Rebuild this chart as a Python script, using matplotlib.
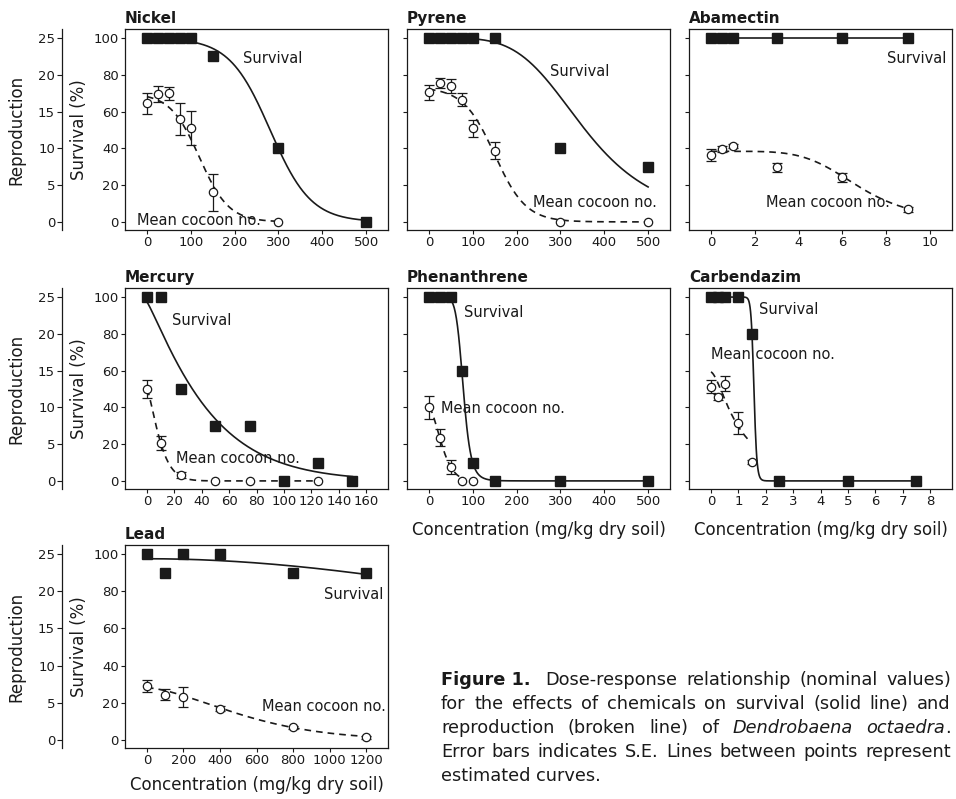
import numpy as np
import matplotlib
matplotlib.use("Agg")
import matplotlib.pyplot as plt

plt.rcParams['font.family'] = ['DejaVu Sans']

# ---- data (survival in %, reproduction as mean cocoon number) ----
nickel_surv_conc = [0, 25, 50, 75, 100, 150, 300, 500]
nickel_surv = [100, 100, 100, 100, 100, 90, 40, 0]
nickel_repro_conc = [0, 25, 50, 75, 100, 150, 300]
nickel_repro = [16.1, 17.4, 17.5, 14.0, 12.8, 4.0, 0.0]
nickel_repro_se = [1.45, 1.05, 0.9, 2.2, 2.3, 2.5, 0.0]

pyrene_surv_conc = [0, 25, 50, 75, 100, 150, 300, 500]
pyrene_surv = [100, 100, 100, 100, 100, 100, 40, 30]
pyrene_repro_conc = [0, 25, 50, 75, 100, 150, 300, 500]
pyrene_repro = [17.6, 18.95, 18.5, 16.6, 12.7, 9.7, 0.0, 0.0]
pyrene_repro_se = [1.05, 0.68, 0.93, 0.9, 1.1, 1.1, 0.0, 0.0]

abamectin_surv_conc = [0, 0.5, 1, 3, 6, 9]
abamectin_surv = [100, 100, 100, 100, 100, 100]
abamectin_repro_conc = [0, 0.5, 1, 3, 6, 9]
abamectin_repro = [9.1, 9.9, 10.35, 7.4, 6.05, 1.7]
abamectin_repro_se = [0.82, 0.4, 0.3, 0.6, 0.6, 0.3]

mercury_surv_conc = [0, 10, 25, 50, 75, 100, 125, 150]
mercury_surv = [100, 100, 50, 30, 30, 0, 10, 0]
mercury_repro_conc = [0, 10, 25, 50, 75, 125]
mercury_repro = [12.5, 5.2, 0.8, 0.0, 0.0, 0.0]
mercury_repro_se = [1.2, 0.95, 0.4, 0.0, 0.0, 0.0]

phenanthrene_surv_conc = [0, 25, 50, 75, 100, 150, 300, 500]
phenanthrene_surv = [100, 100, 100, 60, 10, 0, 0, 0]
phenanthrene_repro_conc = [0, 25, 50, 75, 100]
phenanthrene_repro = [10.0, 5.9, 1.9, 0.0, 0.0]
phenanthrene_repro_se = [1.6, 1.1, 0.9, 0.0, 0.0]

carbendazim_surv_conc = [0, 0.25, 0.5, 1, 1.5, 2.5, 5, 7.5]
carbendazim_surv = [100, 100, 100, 100, 80, 0, 0, 0]
carbendazim_repro_conc = [0, 0.25, 0.5, 1, 1.5]
carbendazim_repro = [12.8, 11.4, 13.2, 7.9, 2.6]
carbendazim_repro_se = [0.86, 0.45, 1.0, 1.5, 0.3]

lead_surv_conc = [0, 100, 200, 400, 800, 1200]
lead_surv = [100, 90, 100, 100, 90, 90]
lead_repro_conc = [0, 100, 200, 400, 800, 1200]
lead_repro = [7.27, 6.09, 5.8, 4.2, 1.7, 0.36]
lead_repro_se = [0.77, 0.7, 1.36, 0.35, 0.2, 0.2]

# fitted dose-response curves: (model, top, ec50, slope, x range)
nickel_surv_fit = ("logistic", 100, 281, 0.0215, (0, 500))
nickel_repro_fit = ("logistic", 17.5, 120, 0.03, (0, 300))
pyrene_surv_fit = ("ll", 100, 357, 4.3, (0, 500))
pyrene_repro_fit = ("logistic", 18.3, 150, 0.028, (0, 500))
abamectin_surv_fit = ("ll", 100, np.inf, 1, (0, 9))
abamectin_repro_fit = ("ll", 9.6, 6.75, 5.1, (0, 9))
mercury_surv_fit = ("weibull", 97.3, 47.4, 1.14, (0, 150))
mercury_repro_fit = ("weibull", 12.5, 11.0, 1.36, (0, 125))
phenanthrene_surv_fit = ("ll", 100, 78.4, 9.05, (0, 500))
phenanthrene_repro_fit = ("weibull", 10.0, 36.4, 1.61, (0, 75))
carbendazim_surv_fit = ("ll", 100, 1.57, 30, (0, 7.5))
carbendazim_repro_fit = ("ll", 14.8, 1.0, 1.6, (0, 1.45))
lead_surv_fit = ("ll", 97.5, 3900, 2, (0, 1200))
lead_repro_fit = ("weibull", 7.0, 632, 1.57, (0, 1200))

nickel_ticks = [0, 100, 200, 300, 400, 500]
abamectin_ticks = [0, 2, 4, 6, 8, 10]
mercury_ticks = [0, 20, 40, 60, 80, 100, 120, 140, 160]
carbendazim_ticks = [0, 1, 2, 3, 4, 5, 6, 7, 8]
lead_ticks = [0, 200, 400, 600, 800, 1000, 1200]
surv_ticks = [0, 20, 40, 60, 80, 100]
repro_ticks = [0, 5, 10, 15, 20, 25]

REPRO_SCALE = 4  # 25 cocoons sits level with 100 % survival

W, H = 956, 799
INK = "#1a1a1a"


def dose_curve(x, model, top, ec50, slope):
    if model == "ll":
        return top / (1 + (x / ec50) ** slope)
    if model == "logistic":
        return top / (1 + np.exp(slope * (x - ec50)))
    return top * np.exp(-(x / ec50) ** slope)


def px_axes(fig, left, top, width, height):
    return fig.add_axes([left / W, 1 - (top + height) / H, width / W, height / H])


def panel(fig, box, name, sc, sv, rc, rv, rse, sfit, rfit, ticks, xlim,
          surv_lab, repro_lab, first_col, xlabel=None, xlabel_off=41):
    ax = px_axes(fig, *box)
    ax.set_xlim(*xlim)
    ax.set_ylim(-4.4, 104.9)

    model, top, ec, sl, (x0, x1) = sfit
    xs = np.linspace(x0, x1, 400)
    ax.plot(xs, dose_curve(xs, model, top, ec, sl), color=INK, lw=1.2, zorder=2)
    model, top, ec, sl, (x0, x1) = rfit
    xs = np.linspace(x0, x1, 400)
    ax.plot(xs, REPRO_SCALE * dose_curve(xs, model, top, ec, sl), color=INK,
            lw=1.2, ls=(0, (4, 3)), zorder=2)

    rv = np.array(rv) * REPRO_SCALE
    rse = np.array(rse) * REPRO_SCALE
    rc = np.array(rc)
    has_err = rse > 0
    ax.errorbar(rc[has_err], rv[has_err], yerr=rse[has_err], fmt="none",
                ecolor=INK, elinewidth=0.9, capsize=3.6, capthick=0.9, zorder=3)
    ax.plot(rc, rv, "o", ms=6, mfc="white", mec=INK, mew=0.9, zorder=4)
    ax.plot(sc, sv, "s", ms=6.5, color=INK, zorder=5)

    (tx, ty, ha) = surv_lab
    ax.text(tx, ty, "Survival", fontsize=10.5, ha=ha, va="center", color=INK, zorder=6)
    (tx, ty, ha) = repro_lab
    ax.text(tx, ty, "Mean cocoon no.", fontsize=10.5, ha=ha, va="center", color=INK, zorder=6)

    ax.set_xticks(ticks)
    ax.set_xticklabels([str(t) for t in ticks])
    ax.set_yticks(surv_ticks)
    ax.tick_params(direction="out", length=3, width=0.8, pad=1.5,
                   labelsize=9.5, colors=INK)
    for s in ax.spines.values():
        s.set_linewidth(0.9)
        s.set_color(INK)
    ax.set_title(name, loc="left", fontsize=11, fontweight="bold", pad=4, color=INK)

    if first_col:
        ax.set_yticklabels([str(t) for t in surv_ticks])
        ax.text(-0.175, 0.5, "Survival (%)", rotation=90, transform=ax.transAxes,
                ha="center", va="center", fontsize=12, color=INK)
        rep = ax.twinx()
        rep.set_ylim(-4.4 / REPRO_SCALE, 104.9 / REPRO_SCALE)
        rep.yaxis.tick_left()
        rep.spines["left"].set_position(("axes", -63 / box[2]))
        rep.spines["left"].set_linewidth(0.9)
        rep.spines["left"].set_color(INK)
        for side in ("right", "top", "bottom"):
            rep.spines[side].set_visible(False)
        rep.set_yticks(repro_ticks)
        rep.set_yticklabels([str(t) for t in repro_ticks])
        rep.tick_params(direction="out", length=3.5, width=0.8, pad=1.5,
                        labelsize=9.5, colors=INK)
        ax.text(-0.412, 0.5, "Reproduction", rotation=90, transform=ax.transAxes,
                ha="center", va="center", fontsize=12, color=INK)
    else:
        ax.set_yticklabels([])

    if xlabel:
        ax.text(0.5, -xlabel_off / box[3], xlabel, transform=ax.transAxes,
                ha="center", va="center", fontsize=12, color=INK)
    return ax


fig = plt.figure(figsize=(W / 100, H / 100), dpi=100)

cols = [125, 407, 689]
rows = [29, 288, 545]
cw, ch = 263, 201
conc_label = "Concentration (mg/kg dry soil)"

panel(fig, (cols[0], rows[0], cw, ch), "Nickel", nickel_surv_conc, nickel_surv,
      nickel_repro_conc, nickel_repro, nickel_repro_se, nickel_surv_fit, nickel_repro_fit,
      nickel_ticks, (-50, 550), (286, 89, "center"), (-23, 1, "left"), True)
panel(fig, (cols[1], rows[0], cw, ch), "Pyrene", pyrene_surv_conc, pyrene_surv,
      pyrene_repro_conc, pyrene_repro, pyrene_repro_se, pyrene_surv_fit, pyrene_repro_fit,
      nickel_ticks, (-50, 550), (344, 81.7, "center"), (238, 10.5, "left"), False)
panel(fig, (cols[2], rows[0], cw, ch), "Abamectin", abamectin_surv_conc, abamectin_surv,
      abamectin_repro_conc, abamectin_repro, abamectin_repro_se, abamectin_surv_fit,
      abamectin_repro_fit, abamectin_ticks, (-1, 11), (10.76, 89, "right"),
      (2.5, 10.7, "left"), False)
panel(fig, (cols[0], rows[1], cw, ch), "Mercury", mercury_surv_conc, mercury_surv,
      mercury_repro_conc, mercury_repro, mercury_repro_se, mercury_surv_fit, mercury_repro_fit,
      mercury_ticks, (-16, 176), (18.3, 87.4, "left"), (21.4, 12.4, "left"), True)
panel(fig, (cols[1], rows[1], cw, ch), "Phenanthrene", phenanthrene_surv_conc,
      phenanthrene_surv, phenanthrene_repro_conc, phenanthrene_repro, phenanthrene_repro_se,
      phenanthrene_surv_fit, phenanthrene_repro_fit, nickel_ticks, (-50, 550),
      (80, 91.4, "left"), (28, 39.2, "left"), False, conc_label, 41)
panel(fig, (cols[2], rows[1], cw, ch), "Carbendazim", carbendazim_surv_conc,
      carbendazim_surv, carbendazim_repro_conc, carbendazim_repro, carbendazim_repro_se,
      carbendazim_surv_fit, carbendazim_repro_fit, carbendazim_ticks, (-0.8, 8.8),
      (1.76, 93.4, "left"), (0, 68.7, "left"), False, conc_label, 41)
panel(fig, (cols[0], rows[2], cw, 203), "Lead", lead_surv_conc, lead_surv,
      lead_repro_conc, lead_repro, lead_repro_se, lead_surv_fit, lead_repro_fit,
      lead_ticks, (-120, 1320), (1293, 78.1, "right"), (1306, 18, "right"), True,
      conc_label, 37)

# caption, justified between two x positions
caption_lines = [
    [[("Figure 1.", "bold")], [("Dose-response", "normal")], [("relationship", "normal")],
     [("(nominal", "normal")], [("values)", "normal")]],
    [[(w, "normal")] for w in "for the effects of chemicals on survival (solid line) and".split()],
    [[(w, "normal")] for w in "reproduction (broken line) of".split()]
    + [[("Dendrobaena", "italic")], [("octaedra", "italic"), (".", "normal")]],
    [[(w, "normal")] for w in "Error bars indicates S.E. Lines between points represent".split()],
    [[(w, "normal")] for w in "estimated curves.".split()],
]

renderer = fig.canvas.get_renderer()
cap_x0, cap_x1 = 441, 951
cap_base, cap_step, cap_size = 685, 24, 12.8
for i, line in enumerate(caption_lines):
    y = 1 - (cap_base + i * cap_step) / H
    words = []
    for word in line:
        parts = []
        for txt, style in word:
            t = fig.text(0, y, txt, fontsize=cap_size, va="baseline", ha="left", color=INK,
                         fontweight="bold" if style == "bold" else "normal",
                         fontstyle="italic" if style == "italic" else "normal")
            parts.append((t, t.get_window_extent(renderer).width))
        words.append(parts)
    widths = [sum(w for _, w in parts) for parts in words]
    extra = 6 if i == 0 else 0
    if i < len(caption_lines) - 1:
        gap = (cap_x1 - cap_x0 - sum(widths) - extra) / (len(words) - 1)
    else:
        gap = 0.32 * cap_size * 100 / 72
    x = cap_x0
    for j, parts in enumerate(words):
        for t, w in parts:
            t.set_x(x / W)
            x += w
        x += gap + (extra if j == 0 else 0)

fig.savefig("out.png", dpi=100)
